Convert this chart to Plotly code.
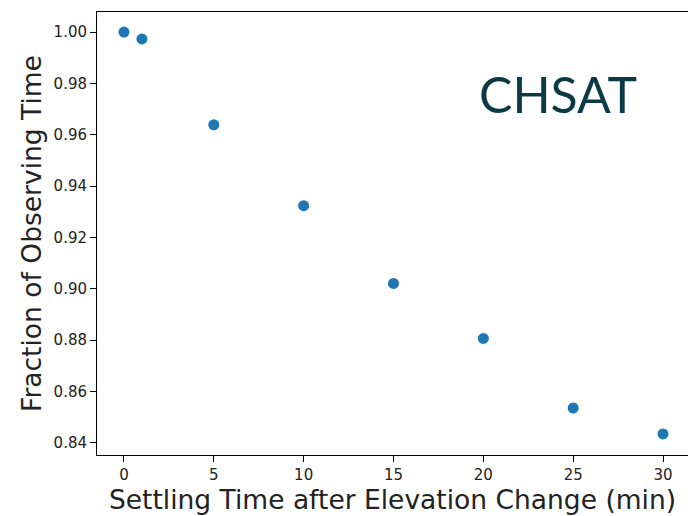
import plotly.graph_objects as go

settling_min = [0, 1, 5, 10, 15, 20, 25, 30]
fraction_obs = [1.000, 0.9973, 0.9639, 0.9324, 0.9021, 0.8807, 0.8536, 0.8435]
x_ticks = [0, 5, 10, 15, 20, 25, 30]
y_ticks = [0.84, 0.86, 0.88, 0.90, 0.92, 0.94, 0.96, 0.98, 1.00]

L, R, T, B = 97, 0, 12, 61
W, H = 688, 516

fig = go.Figure()
fig.add_trace(go.Scatter(
    x=settling_min, y=fraction_obs, mode="markers",
    marker=dict(color="#1f77b4", size=11, line=dict(width=0)),
    showlegend=False, hoverinfo="skip",
))

font_family = "DejaVu Sans"
fig.update_layout(
    width=W, height=H,
    margin=dict(l=L, r=R, t=T, b=B),
    plot_bgcolor="white", paper_bgcolor="white",
    font=dict(family=font_family, color="#222222"),
    xaxis=dict(
        range=[-1.5, 31.39], tickvals=x_ticks, ticktext=[str(v) for v in x_ticks],
        showgrid=False, zeroline=False, showline=True, mirror=True,
        linecolor="black", linewidth=1, ticks="outside", ticklen=6,
        tickcolor="black", tickfont=dict(size=15, color="#222222"),
        title=dict(text="Settling Time after Elevation Change (min)",
                   font=dict(size=26.5, color="#222222"), standoff=4),
    ),
    yaxis=dict(
        range=[0.8353, 1.0078], tickvals=y_ticks,
        ticktext=[f"{v:.2f}" for v in y_ticks],
        showgrid=False, zeroline=False, showline=True, mirror=False,
        linecolor="black", linewidth=1, ticks="outside", ticklen=6,
        tickcolor="black", tickfont=dict(size=15, color="#222222"),
        title=dict(text="Fraction of Observing Time",
                   font=dict(size=26.5, color="#222222"), standoff=4),
    ),
)

fig.add_annotation(
    x=(558 - L) / (W - L - R), y=1 - (94 - T) / (H - T - B),
    xref="paper", yref="paper", xanchor="center", yanchor="middle",
    text="CHSAT", showarrow=False,
    font=dict(family="Lato", size=50, color="#0b3a44"),
)

fig.write_html("out.html")
